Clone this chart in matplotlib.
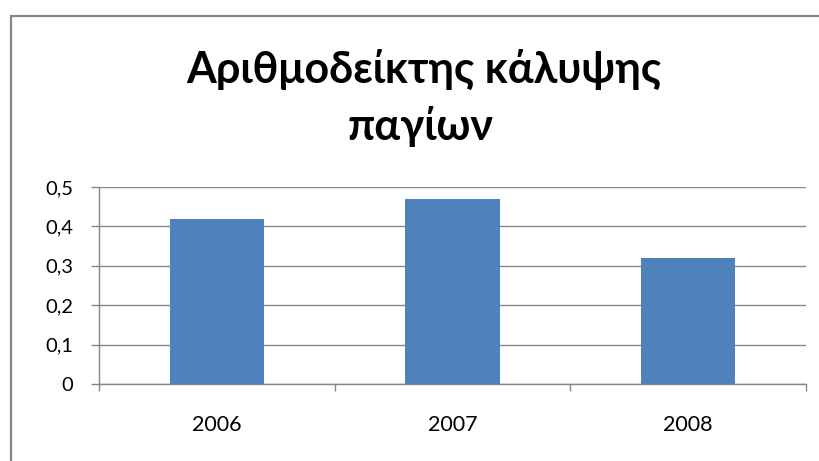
import matplotlib
matplotlib.use("Agg")
import matplotlib.pyplot as plt
from matplotlib.patches import Rectangle
from matplotlib.ticker import FuncFormatter, MultipleLocator

years = ["2006", "2007", "2008"]
ratio = [0.42, 0.47, 0.32]

title_lines = ["Αριθμοδείκτης κάλυψης", "παγίων"]

plt.rcParams["font.family"] = ["Lato", "DejaVu Sans"]

W, H = 820, 461
fig = plt.figure(figsize=(W / 100, H / 100), dpi=100)
fig.patch.set_facecolor("white")

grey = "#868686"

# outer chart frame
fig.patches.append(Rectangle((11.5 / W, -0.1), 1.2, (1 - 16 / H) + 0.1,
                             transform=fig.transFigure, fill=False,
                             edgecolor=grey, linewidth=1.6))

ax = fig.add_axes([99 / W, 1 - 384 / H, (806 - 99) / W, (384 - 187) / H])
x = list(range(len(years)))
ax.bar(x, ratio, width=0.4, color="#4F81BD", zorder=3)

ax.set_xlim(-0.5, len(years) - 0.5)
ax.set_ylim(0, 0.5)
ax.yaxis.set_major_locator(MultipleLocator(0.1))
ax.yaxis.set_major_formatter(FuncFormatter(
    lambda v, _: "0" if abs(v) < 1e-9 else f"{v:.1f}".replace(".", ",")))
ax.grid(axis="y", color=grey, linewidth=1.0, zorder=1)
ax.set_axisbelow(True)

for s in ("top", "right"):
    ax.spines[s].set_visible(False)
for s in ("left", "bottom"):
    ax.spines[s].set_color(grey)
    ax.spines[s].set_linewidth(1.0)

ax.set_xticks(x)
ax.set_xticklabels(years)
ax.set_xticks([-0.5, 0.5, 1.5, 2.5], minor=True)
ax.tick_params(axis="x", which="major", length=0, pad=22, labelsize=15.5)
ax.tick_params(axis="x", which="minor", length=5, color=grey, width=1.0)
ax.tick_params(axis="y", length=6, color=grey, width=1.0, pad=12.5, labelsize=14.5)

fig.text(424 / W, 1 - 83 / H, title_lines[0], ha="center", va="baseline",
         fontsize=31, fontweight="bold", color="black")
fig.text(420 / W, 1 - 140 / H, title_lines[1], ha="center", va="baseline",
         fontsize=31, fontweight="bold", color="black")

fig.savefig("out.png", dpi=100)
